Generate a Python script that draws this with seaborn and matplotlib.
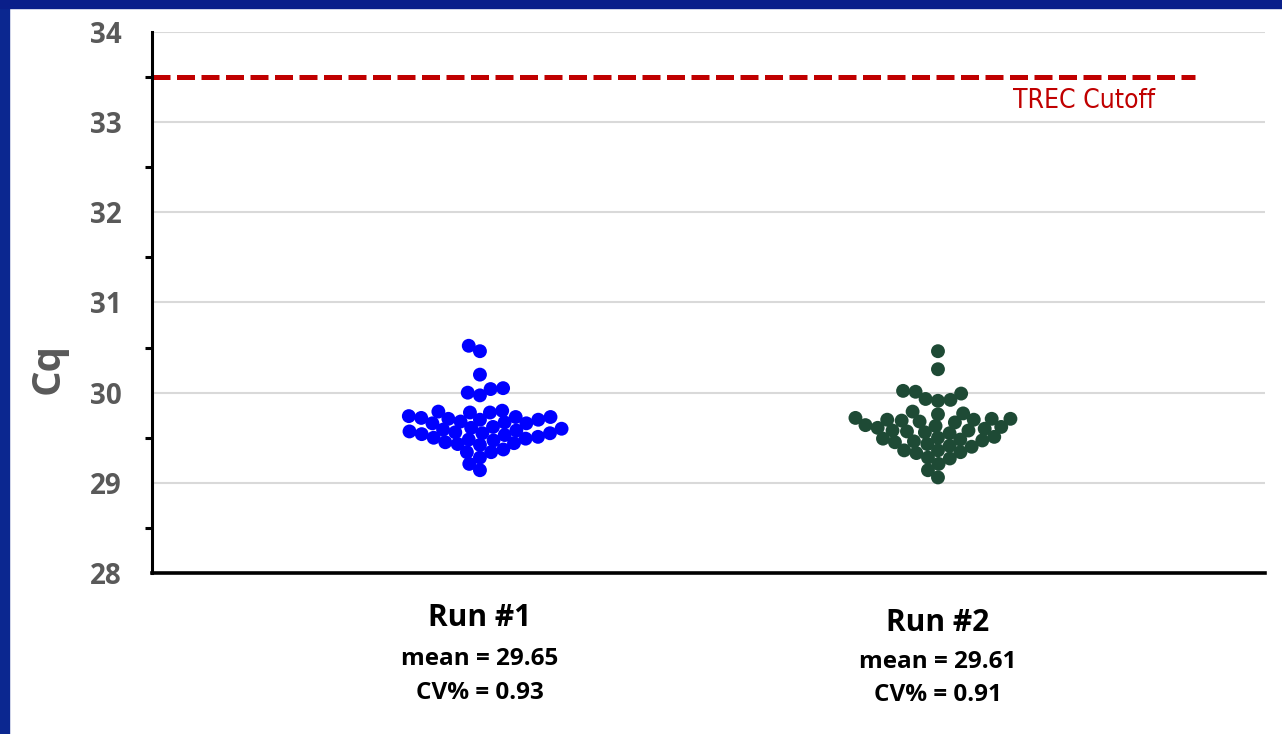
import matplotlib
matplotlib.use("Agg")
import matplotlib.pyplot as plt
from matplotlib.patches import Rectangle
import seaborn as sns
from seaborn.categorical import Beeswarm
import pandas as pd

# Cq values per run
run1_cq = [30.52, 30.46, 30.20, 30.05, 30.04, 30.00, 29.97,
           29.80, 29.79, 29.78, 29.78,
           29.74, 29.73, 29.73, 29.72, 29.71, 29.70, 29.70,
           29.68, 29.67, 29.66, 29.66,
           29.62, 29.61, 29.60, 29.59, 29.58, 29.57, 29.56,
           29.55, 29.55, 29.54, 29.53,
           29.51, 29.50, 29.49, 29.48, 29.47,
           29.45, 29.44, 29.43, 29.42,
           29.37, 29.34, 29.34, 29.28, 29.21, 29.14]
run2_cq = [30.46, 30.26, 30.02, 30.01, 29.99, 29.93, 29.92, 29.91,
           29.79, 29.77, 29.76,
           29.72, 29.71, 29.71, 29.70, 29.70, 29.69, 29.68, 29.67,
           29.64, 29.63, 29.62, 29.61, 29.60,
           29.58, 29.58, 29.57, 29.56, 29.55,
           29.51, 29.50, 29.49, 29.48, 29.47, 29.46, 29.45,
           29.43, 29.41, 29.40,
           29.36, 29.36, 29.34, 29.33, 29.28, 29.27, 29.21, 29.14, 29.06]

runs = ["Run #1", "Run #2"]
means = ["mean = 29.65", "mean = 29.61"]
cvs = ["CV% = 0.93", "CV% = 0.91"]
run_colors = ["#0000FF", "#1E4A35"]
cutoff = 33.5
cutoff_label = "TREC Cutoff"
y_ticks = [28, 29, 30, 31, 32, 33, 34]

df = pd.DataFrame({
    "run": [runs[0]] * len(run1_cq) + [runs[1]] * len(run2_cq),
    "cq": run1_cq + run2_cq,
})

# let neighbouring dots overlap a little, so the swarm packs tighter
_swarm_layout = Beeswarm.__call__


def _packed_swarm(self, points, center, _overlap=0.86):
    full = points.get_sizes()
    points.set_sizes(full * _overlap ** 2)
    _swarm_layout(self, points, center)
    points.set_sizes(full)


Beeswarm.__call__ = _packed_swarm

sns.set_theme(style="white")
plt.rcParams["font.family"] = ["Open Sans", "DejaVu Sans"]

W, H = 1282, 734
fig = plt.figure(figsize=(W / 100, H / 100), dpi=100, facecolor="white")

# dark blue slide frame
fig.add_artist(Rectangle((0, 0), 9 / W, 1, transform=fig.transFigure,
                         color="#0B2790", zorder=0))
fig.add_artist(Rectangle((0, 1 - 8 / H), 1, 8 / H, transform=fig.transFigure,
                         color="#0A1F8A", zorder=0))

ax = fig.add_axes([152 / W, 1 - 573 / H, (1265 - 152) / W, (573 - 32) / H])
ax.set_facecolor("white")

sns.swarmplot(data=df, x="run", y="cq", hue="run", palette=run_colors,
              order=runs, hue_order=runs, size=10, linewidth=0,
              legend=False, ax=ax, zorder=3)

ax.set_xlim(-0.716, 1.714)
ax.set_ylim(28, 34)
ax.set_yticks(y_ticks)
ax.set_yticks([v + 0.5 for v in y_ticks[:-1]], minor=True)
ax.set_yticklabels([str(v) for v in y_ticks])
ax.yaxis.grid(True, which="major", color="#D9D9D9", linewidth=1.5, zorder=0)
ax.set_axisbelow(True)

ax.tick_params(axis="y", which="major", direction="out", length=6.8, width=2.2,
               color="black", pad=15, labelsize=20, labelcolor="#595959")
ax.tick_params(axis="y", which="minor", direction="out", length=5.2, width=2.2,
               color="black", left=True)
for lab in ax.get_yticklabels():
    lab.set_fontweight("bold")
ax.tick_params(axis="x", bottom=False, labelbottom=False)
ax.set_xlabel("")
ax.set_ylabel("")

for side in ["top", "right"]:
    ax.spines[side].set_visible(False)
ax.spines["left"].set_linewidth(2.2)
ax.spines["left"].set_color("black")
ax.spines["bottom"].set_linewidth(2.6)
ax.spines["bottom"].set_color("black")

# detection cutoff line
ax.axhline(cutoff, xmin=0, xmax=(1195 - 152) / (1265 - 152), color="#C00000",
           linewidth=3.6, linestyle=(0, (3.6, 1.3)), zorder=2)
fig.text(1013 / W, 1 - 101 / H, cutoff_label, color="#C00000", fontsize=19,
         ha="left", va="center", fontstretch="condensed", fontweight="medium",
         family=["Liberation Sans Narrow", "DejaVu Sans"])

fig.text(48 / W, 1 - 368 / H, "Cq", rotation=90, fontsize=29, fontweight="bold",
         color="#595959", ha="center", va="center")

# category labels with summary statistics
trans = ax.get_xaxis_transform()
offsets = [0, 5]
for i, run in enumerate(runs):
    dy = offsets[i]
    ax.text(i, -(626 + dy - 573) / (573 - 32), run, transform=trans, ha="center",
            va="baseline", fontsize=21.5, fontweight="bold", color="black")
    ax.text(i, -(665 + dy * 0.6 - 573) / (573 - 32), means[i], transform=trans,
            ha="center", va="baseline", fontsize=17.5, fontweight="bold", color="black")
    ax.text(i, -(699 + dy * 0.4 - 573) / (573 - 32), cvs[i], transform=trans,
            ha="center", va="baseline", fontsize=17.5, fontweight="bold", color="black")

fig.savefig("out.png", dpi=100, facecolor="white")
